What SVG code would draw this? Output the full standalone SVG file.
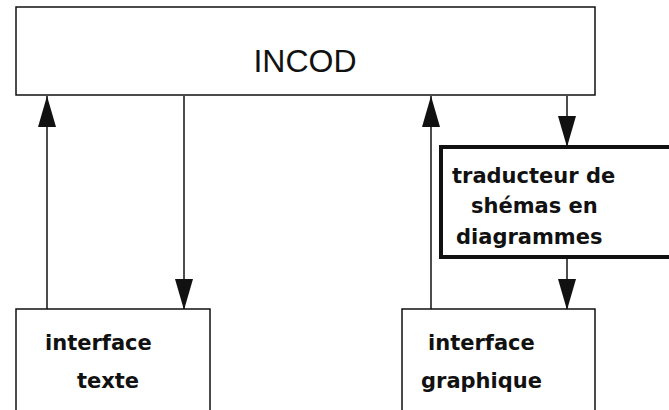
<svg xmlns="http://www.w3.org/2000/svg" width="669" height="410" viewBox="0 0 669 410">
<style>
.box{fill:#fff;stroke:#111;stroke-width:1.5}
.thick{fill:#fff;stroke:#111;stroke-width:4}
.line{stroke:#111;stroke-width:1.5;fill:none}
.lbl{font-family:"DejaVu Sans",sans-serif;font-weight:bold;font-size:21px;fill:#111}
.title{font-family:"Liberation Sans",Arial,sans-serif;font-size:32px;fill:#111}
</style>
<defs>
<marker id="ah" markerWidth="31" markerHeight="20" refX="31" refY="10" orient="auto" markerUnits="userSpaceOnUse" viewBox="0 0 31 20">
<path d="M0,1 L31,10 L0,19 Z" fill="#111"/>
</marker>
</defs>
<rect width="669" height="410" fill="#fff"/>
<g id="connectors">
<line class="line" x1="47" y1="309" x2="47" y2="96" marker-end="url(#ah)"/>
<line class="line" x1="184" y1="96" x2="184" y2="310" marker-end="url(#ah)"/>
<line class="line" x1="431" y1="309" x2="431" y2="96" marker-end="url(#ah)"/>
<line class="line" x1="567" y1="96" x2="567" y2="147" marker-end="url(#ah)"/>
<line class="line" x1="567" y1="258" x2="567" y2="310" marker-end="url(#ah)"/>
</g>
<g id="incod">
<rect class="box" x="16" y="7" width="579" height="88"/>
<text class="title" x="305" y="72" text-anchor="middle">INCOD</text>
</g>
<g id="traducteur">
<rect class="thick" x="441" y="147" width="234" height="110"/>
<text class="lbl" x="452" y="183">traducteur de</text>
<text class="lbl" x="471" y="213">shémas en</text>
<text class="lbl" x="456" y="244">diagrammes</text>
</g>
<g id="interface-texte">
<rect class="box" x="16" y="309" width="194" height="110"/>
<text class="lbl" x="45" y="350">interface</text>
<text class="lbl" x="77" y="388">texte</text>
</g>
<g id="interface-graphique">
<rect class="box" x="402" y="309" width="193" height="110"/>
<text class="lbl" x="428" y="350">interface</text>
<text class="lbl" x="421" y="388">graphique</text>
</g>
</svg>
